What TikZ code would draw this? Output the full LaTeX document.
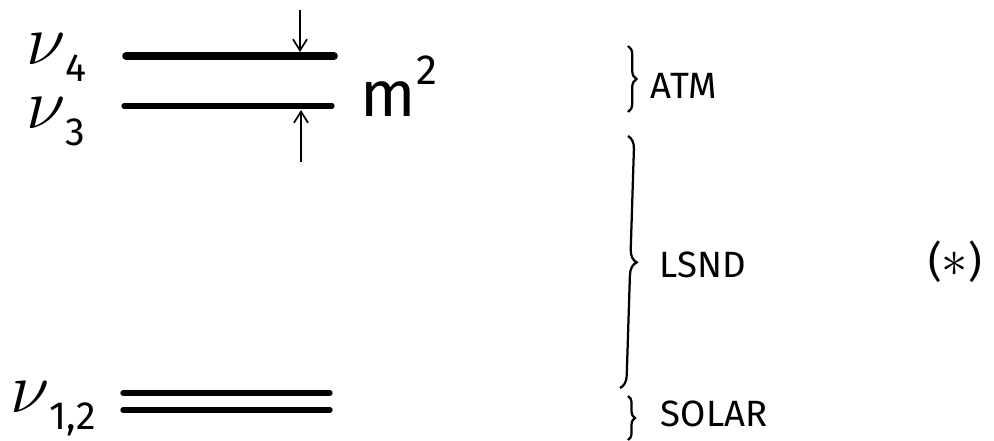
\documentclass[tikz,border=0pt]{standalone}
\usepackage{fontspec}
\setsansfont{Fira Sans}
\usetikzlibrary{arrows.meta,decorations.pathreplacing}

\newcommand{\lowidx}[1]{\raisebox{-0.30em}{\fontsize{28}{32}\selectfont #1}}
\newcommand{\bignu}{\scalebox{2.05}{$\nu$}}

\begin{document}
\begin{tikzpicture}[
    x=0.025cm, y=-0.025cm,
    font=\sffamily,
    level/.style={line width=3.8pt, line cap=round},
    heavy/.style={line width=5.4pt, line cap=round},
    gap/.style={-{Straight Barb[length=8pt,width=10pt]}, line width=1.2pt},
    curly/.style={decorate, line width=1.6pt, decoration={brace, amplitude=#1}},
    tag/.style={anchor=west, font=\sffamily\fontsize{26}{30}\selectfont},
    nu/.style={anchor=base west, font=\sffamily\fontsize{42}{46}\selectfont, inner sep=0pt}
]
    \useasboundingbox (0,0) rectangle (994,441);

    % mass levels
    \coordinate (n4a) at (126,56);  \coordinate (n4b) at (334,56);
    \coordinate (n3a) at (124,106); \coordinate (n3b) at (332,106);
    \coordinate (n1a) at (123,393); \coordinate (n1b) at (330,393);
    \coordinate (n2a) at (123,410); \coordinate (n2b) at (330,410);

    \draw[heavy] (n4a) -- (n4b);
    \draw[level] (n3a) -- (n3b);
    \draw[level] (n1a) -- (n1b);
    \draw[level] (n2a) -- (n2b);

    \node[nu] (nu4) at (26,64) {\bignu\lowidx{4}};
    \node[nu] (nu3) at (26,128) {\bignu\lowidx{3}};
    \node[nu] (nu12) at (10,412) {\bignu\lowidx{1,2}};

    % splitting arrows
    \coordinate (up4) at (300,10);
    \coordinate (lo3) at (301,162);
    \coordinate (hit4) at (300,52);
    \coordinate (hit3) at (301,110);
    \draw[gap] (up4) -- (hit4);
    \draw[gap] (lo3) -- (hit3);
    \node[anchor=west, font=\sffamily\fontsize{46}{50}\selectfont] (msq) at (356,86)
        {m\raisebox{0.5em}{\fontsize{30}{34}\selectfont 2}};

    % braces
    \coordinate (atmT) at (628,46);  \coordinate (atmB) at (628,112);
    \coordinate (lsT)  at (628,136); \coordinate (lsB)  at (620,388);
    \coordinate (solT) at (628,396); \coordinate (solB) at (628,440);
    \draw[curly=6pt] (atmT) -- (atmB);
    \draw[curly=9pt] (lsT) -- (lsB);
    \draw[curly=5pt] (solT) -- (solB);

    \node[tag] (atm) at (646,86) {ATM};
    \node[tag] (lsnd) at (655,265) {LSND};
    \node[tag] (solar) at (656,414) {SOLAR};

    \node[font=\sffamily\fontsize{30}{34}\selectfont] (star) at (955,262)
        {(\scalebox{1.5}{$\ast$})};
\end{tikzpicture}
\end{document}
